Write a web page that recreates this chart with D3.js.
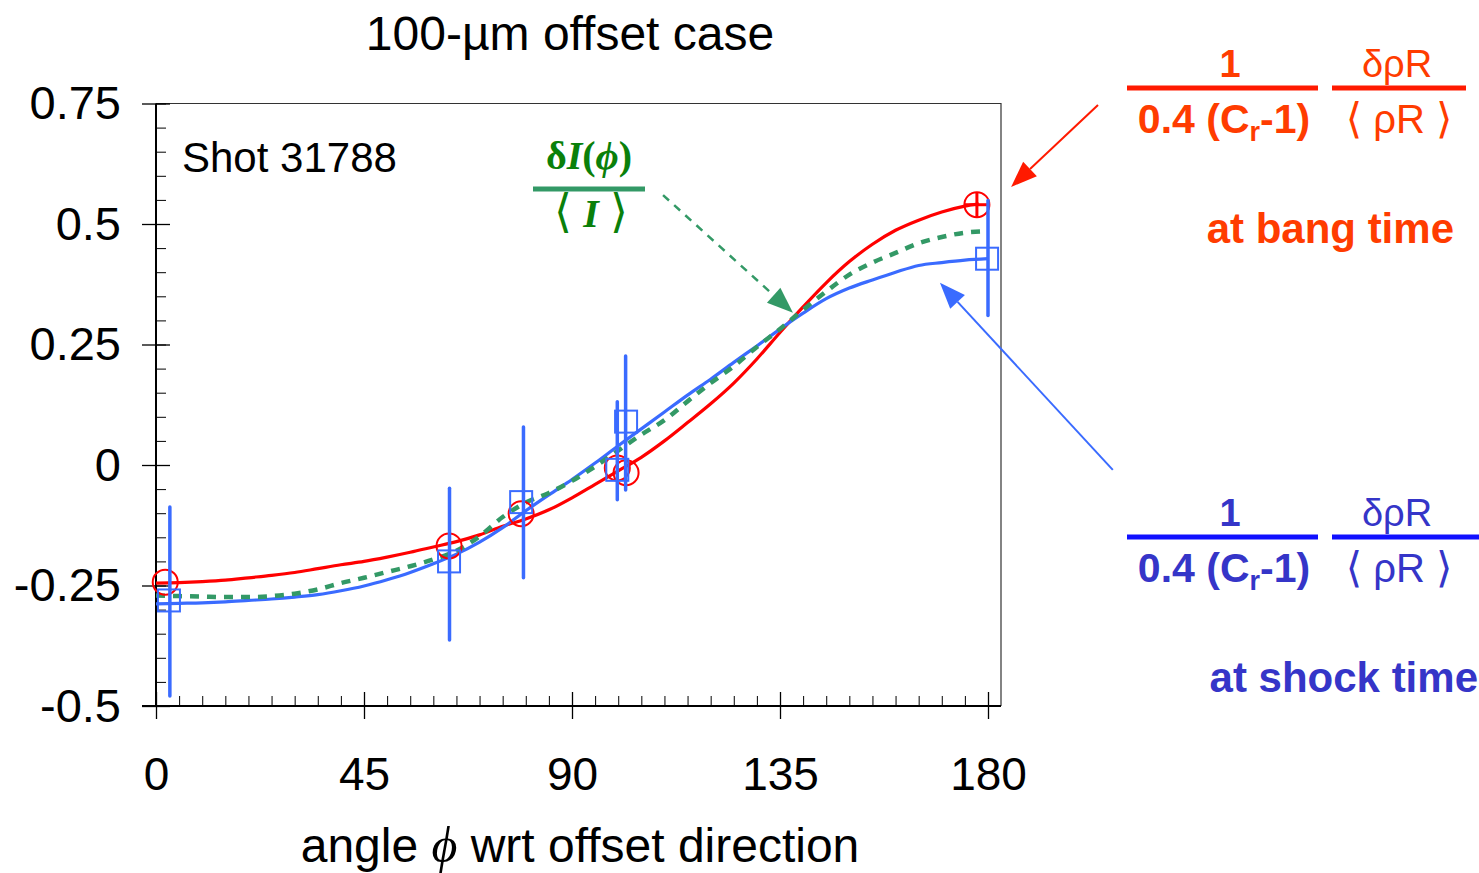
<!DOCTYPE html>
<html>
<head>
<meta charset="utf-8">
<script src="https://cdn.jsdelivr.net/npm/d3@7.9.0/dist/d3.min.js"></script>
<style>
  body { margin: 0; background: #fff; }
  svg { display: block; font-family: "Liberation Sans", Arial, sans-serif; }
</style>
</head>
<body>
<svg id="chart" width="1479" height="873"></svg>
<script>
// --- curve data (angle phi in degrees) ---
const bangAngles = [0, 5, 10, 15, 20, 25, 30, 35, 40, 45, 50, 55, 60, 65, 70, 75, 80, 85, 90, 95, 100, 105, 110, 115, 120, 125, 130, 135, 140, 145, 150, 155, 160, 165, 170, 175, 178];
const bangValues = [-0.245, -0.244, -0.242, -0.239, -0.234, -0.229, -0.223, -0.215, -0.207, -0.2, -0.191, -0.181, -0.17, -0.159, -0.145, -0.127, -0.112, -0.093, -0.068, -0.04, -0.012, 0.016, 0.05, 0.088, 0.127, 0.17, 0.22, 0.275, 0.328, 0.378, 0.422, 0.458, 0.487, 0.508, 0.525, 0.537, 0.542];

const shockAngles = [0, 5, 10, 15, 20, 25, 30, 35, 40, 45, 50, 55, 60, 65, 70, 75, 80, 85, 90, 95, 100, 105, 110, 115, 120, 125, 130, 135, 140, 145, 150, 155, 160, 165, 170, 175, 180];
const shockValues = [-0.288, -0.287, -0.286, -0.284, -0.281, -0.278, -0.274, -0.269, -0.261, -0.251, -0.238, -0.223, -0.205, -0.185, -0.16, -0.13, -0.095, -0.062, -0.03, 0.004, 0.04, 0.075, 0.11, 0.145, 0.178, 0.213, 0.247, 0.282, 0.315, 0.345, 0.367, 0.384, 0.4, 0.414, 0.42, 0.425, 0.428];

const intensityAngles = [0, 5, 10, 15, 20, 25, 30, 35, 40, 45, 50, 55, 60, 65, 70, 75, 80, 85, 90, 95, 100, 105, 110, 115, 120, 125, 130, 135, 140, 145, 150, 155, 160, 165, 170, 175, 180];
const intensityValues = [-0.271, -0.272, -0.273, -0.274, -0.274, -0.272, -0.267, -0.258, -0.245, -0.234, -0.222, -0.21, -0.196, -0.178, -0.148, -0.108, -0.078, -0.058, -0.033, -0.003, 0.03, 0.063, 0.093, 0.132, 0.17, 0.205, 0.245, 0.282, 0.322, 0.36, 0.395, 0.42, 0.44, 0.46, 0.473, 0.482, 0.485];

// --- measured points ---
const bangPtAngles = [2, 63.4, 79, 99.8, 101.7, 177.6];
const bangPtValues = [-0.243, -0.168, -0.101, -0.006, -0.016, 0.54];
const bangPtErrY = [0, 0, 0, 0, 0, 0.026];
const bangPtErrX = [0, 0, 0, 0, 0, 2.7];

const shockPtAngles = [2.8, 63.4, 79, 99.8, 101.7, 179.8];
const shockPtValues = [-0.281, -0.2, -0.077, -0.01, 0.09, 0.428];
const shockPtLow = [-0.479, -0.363, -0.234, -0.072, -0.052, 0.31];
const shockPtHigh = [-0.087, -0.048, 0.079, 0.131, 0.226, 0.549];
const shockBarAngles = [3, 63.5, 79.5, 99.8, 101.6, 180];

// --- axes ---
const xTicks = [0, 45, 90, 135, 180];
const yTicks = [-0.5, -0.25, 0, 0.25, 0.5, 0.75];
const yTickLabels = ["-0.5", "-0.25", "0", "0.25", "0.5", "0.75"];

const RED = "#ff0000", BLUE = "#3a6bff", GREEN = "#339966";

const svg = d3.select("#chart");
const x = d3.scaleLinear().domain([0, 180]).range([156, 988]);
const y = d3.scaleLinear().domain([-0.5, 0.75]).range([706, 103.5]);
const xRight = 1001;

// frame (top and right)
svg.append("path")
  .attr("d", `M156,${y(0.75)}H${xRight}V${y(-0.5)}`)
  .attr("fill", "none").attr("stroke", "#333").attr("stroke-width", 1.2);

// left axis: labels + outer ticks
const yAxis = svg.append("g").attr("transform", "translate(156,0)")
  .call(d3.axisLeft(y).tickValues(yTicks).tickFormat((d, i) => yTickLabels[i]).tickSize(14).tickPadding(21));
yAxis.select(".domain").attr("stroke-width", 2).attr("d", `M0,${y(0.75)}V${y(-0.5)}`);
yAxis.selectAll(".tick line").attr("stroke-width", 1.3);
yAxis.selectAll(".tick text").attr("font-size", 47).attr("fill", "#000")
  .attr("font-family", "Liberation Sans, Arial, sans-serif");
// inner major and minor ticks
svg.append("g").attr("transform", "translate(156,0)")
  .call(d3.axisRight(y).tickValues(yTicks).tickSize(14).tickFormat(""))
  .call(g => g.select(".domain").remove())
  .selectAll("line").attr("stroke-width", 1.3);
svg.append("g").attr("transform", "translate(156,0)")
  .call(d3.axisRight(y).tickValues(d3.range(-0.5, 0.76, 0.05)).tickSize(10).tickFormat(""))
  .call(g => g.select(".domain").remove())
  .selectAll("line").attr("stroke-width", 1);

// bottom axis
const xAxis = svg.append("g").attr("transform", `translate(0,${y(-0.5)})`)
  .call(d3.axisBottom(x).tickValues(xTicks).tickSize(13).tickPadding(38));
xAxis.select(".domain").attr("stroke-width", 2).attr("d", `M142,0H${xRight}`);
xAxis.selectAll(".tick line").attr("stroke-width", 1.3);
xAxis.selectAll(".tick text").attr("font-size", 46).attr("fill", "#000")
  .attr("font-family", "Liberation Sans, Arial, sans-serif");
svg.append("g").attr("transform", `translate(0,${y(-0.5)})`)
  .call(d3.axisTop(x).tickValues(xTicks).tickSize(14).tickFormat(""))
  .call(g => g.select(".domain").remove())
  .selectAll("line").attr("stroke-width", 1.3);
svg.append("g").attr("transform", `translate(0,${y(-0.5)})`)
  .call(d3.axisTop(x).tickValues(d3.range(0, 181, 5)).tickSize(10).tickFormat(""))
  .call(g => g.select(".domain").remove())
  .selectAll("line").attr("stroke-width", 1);

// --- curves ---
const line = d3.line().x(d => x(d[0])).y(d => y(d[1])).curve(d3.curveMonotoneX);
const bang = d3.zip(bangAngles, bangValues);
const shock = d3.zip(shockAngles, shockValues);
const intensity = d3.zip(intensityAngles, intensityValues);

svg.append("path").datum(bang).attr("d", line)
  .attr("fill", "none").attr("stroke", RED).attr("stroke-width", 3.2);
svg.append("path").datum(shock).attr("d", line)
  .attr("fill", "none").attr("stroke", BLUE).attr("stroke-width", 3.2);
svg.append("path").datum(intensity).attr("d", line)
  .attr("fill", "none").attr("stroke", GREEN).attr("stroke-width", 4.5)
  .attr("stroke-dasharray", "9,8");

// --- bang time points (red circles) ---
const bangPts = bangPtAngles.map((a, i) => ({ a, v: bangPtValues[i], ey: bangPtErrY[i], ex: bangPtErrX[i] }));
const rg = svg.append("g").attr("stroke", RED).attr("fill", "none").attr("stroke-width", 2);
rg.selectAll("circle").data(bangPts).join("circle")
  .attr("cx", d => x(d.a)).attr("cy", d => y(d.v)).attr("r", 12.5);
rg.selectAll("line.ey").data(bangPts.filter(d => d.ey > 0)).join("line").attr("class", "ey")
  .attr("x1", d => x(d.a)).attr("x2", d => x(d.a))
  .attr("y1", d => y(d.v - d.ey)).attr("y2", d => y(d.v + d.ey)).attr("stroke-width", 3);
rg.selectAll("line.ex").data(bangPts.filter(d => d.ex > 0)).join("line").attr("class", "ex")
  .attr("x1", d => x(d.a - d.ex)).attr("x2", d => x(d.a + d.ex))
  .attr("y1", d => y(d.v)).attr("y2", d => y(d.v)).attr("stroke-width", 3);

// --- shock time points (blue squares + error bars) ---
const shockPts = shockPtAngles.map((a, i) => ({ a, v: shockPtValues[i], lo: shockPtLow[i], hi: shockPtHigh[i], bx: shockBarAngles[i] }));
const bg = svg.append("g").attr("stroke", BLUE).attr("fill", "none");
bg.selectAll("line").data(shockPts).join("line")
  .attr("x1", d => x(d.bx)).attr("x2", d => x(d.bx))
  .attr("y1", d => y(d.lo)).attr("y2", d => y(d.hi))
  .attr("stroke-width", 3.5).attr("stroke-linecap", "round");
bg.selectAll("rect").data(shockPts).join("rect")
  .attr("x", d => x(d.a) - 11).attr("y", d => y(d.v) - 11)
  .attr("width", 22).attr("height", 22).attr("stroke-width", 2);

// --- texts ---
svg.append("text").attr("x", 570).attr("y", 50).attr("text-anchor", "middle")
  .attr("font-size", 48).text("100-\u00b5m offset case");
svg.append("text").attr("x", 182).attr("y", 172).attr("font-size", 42).text("Shot 31788");

const xt = svg.append("text").attr("x", 580).attr("y", 862).attr("text-anchor", "middle").attr("font-size", 48);
xt.append("tspan").text("angle ");
xt.append("tspan").attr("font-family", "Liberation Serif, serif").attr("font-style", "italic").attr("font-size", 50).text("\u03d5");
xt.append("tspan").text(" wrt offset direction");

// green formula
const gf = svg.append("g").attr("fill", "#0a800a").attr("font-family", "Liberation Serif, serif").attr("font-weight", "bold");
const gt = gf.append("text").attr("x", 589).attr("y", 169).attr("text-anchor", "middle").attr("font-size", 40);
gt.append("tspan").text("\u03b4");
gt.append("tspan").attr("font-style", "italic").text("I");
gt.append("tspan").text("(");
gt.append("tspan").attr("font-style", "italic").text("\u03d5");
gt.append("tspan").text(")");
gf.append("line").attr("x1", 533).attr("x2", 645).attr("y1", 189).attr("y2", 189)
  .attr("stroke", GREEN).attr("stroke-width", 5);
const gb = gf.append("text").attr("x", 591).attr("y", 227).attr("text-anchor", "middle").attr("font-size", 40);
gb.append("tspan").attr("font-weight", "normal").attr("font-size", 46).text("\u27e8 ");
gb.append("tspan").attr("font-style", "italic").text("I");
gb.append("tspan").attr("font-weight", "normal").attr("font-size", 46).text(" \u27e9");

// rho-R formulas
function rhoFormula(top, color, barColor, bar2End, label, labelX) {
  const g = svg.append("g").attr("fill", color).attr("font-size", 38);
  g.append("text").attr("x", 1230).attr("y", top - 11).attr("text-anchor", "middle").attr("font-weight", "bold").text("1");
  g.append("text").attr("x", 1397).attr("y", top - 11).attr("text-anchor", "middle").text("\u03b4\u03c1R");
  g.append("line").attr("x1", 1127).attr("x2", 1318).attr("y1", top).attr("y2", top).attr("stroke", barColor).attr("stroke-width", 5);
  g.append("line").attr("x1", 1332).attr("x2", bar2End).attr("y1", top).attr("y2", top).attr("stroke", barColor).attr("stroke-width", 5);
  const d = g.append("text").attr("x", 1224).attr("y", top + 45).attr("text-anchor", "middle").attr("font-weight", "bold").attr("font-size", 41);
  d.append("tspan").text("0.4 (C");
  d.append("tspan").attr("font-size", 27).attr("dy", 8).text("r");
  d.append("tspan").attr("dy", -8).text("-1)");
  const r = g.append("text").attr("x", 1399).attr("y", top + 45).attr("text-anchor", "middle").attr("font-size", 40);
  r.append("tspan").attr("font-family", "DejaVu Sans, sans-serif").attr("font-size", 42).text("\u27e8");
  r.append("tspan").text(" \u03c1R ");
  r.append("tspan").attr("font-family", "DejaVu Sans, sans-serif").attr("font-size", 42).text("\u27e9");
  g.append("text").attr("x", labelX).attr("y", top + 155)
    .attr("text-anchor", "end").attr("font-weight", "bold").attr("font-size", 42).text(label);
}
rhoFormula(88, "#ff3c00", "#ff1a00", 1466, "at bang time", 1454);
rhoFormula(537, "#3535c8", "#1010ff", 1479, "at shock time", 1478);

// --- arrows (data coordinates) ---
const arrows = [
  { from: [203.8, 0.747], to: [185, 0.577], color: "#ff1a00", dash: null, w: 2 },
  { from: [207, -0.01], to: [169.6, 0.378], color: BLUE, dash: null, w: 2 },
  { from: [109.7, 0.56], to: [137.8, 0.316], color: GREEN, dash: "8,7", w: 2.5 }
];
arrows.forEach(a => {
  const x1 = x(a.from[0]), y1 = y(a.from[1]), x2 = x(a.to[0]), y2 = y(a.to[1]);
  const ang = Math.atan2(y2 - y1, x2 - x1), L = 26, W = 10;
  const bx = x2 - L * Math.cos(ang), by = y2 - L * Math.sin(ang);
  svg.append("line").attr("x1", x1).attr("y1", y1).attr("x2", bx).attr("y2", by)
    .attr("stroke", a.color).attr("stroke-width", a.w).attr("stroke-dasharray", a.dash);
  const px = -Math.sin(ang) * W, py = Math.cos(ang) * W;
  svg.append("path")
    .attr("d", `M${x2},${y2}L${bx + px},${by + py}L${bx - px},${by - py}Z`)
    .attr("fill", a.color);
});
</script>
</body>
</html>
